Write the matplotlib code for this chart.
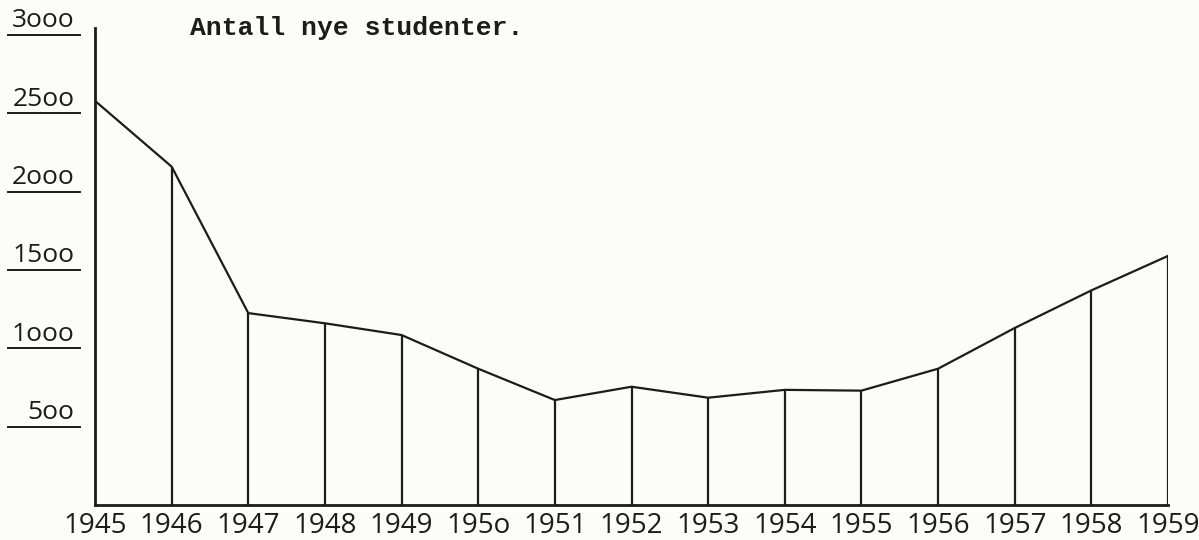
import numpy as np
import matplotlib.pyplot as plt
from matplotlib import transforms

# Data
years = [1945, 1946, 1947, 1948, 1949, 1950, 1951, 1952, 1953, 1954,
         1955, 1956, 1957, 1958, 1959]
new_students = [2580, 2160, 1225, 1160, 1085, 870, 670, 755, 685, 735,
                730, 870, 1130, 1370, 1590]
year_labels = ["1945", "1946", "1947", "1948", "1949", "195o", "1951", "1952",
               "1953", "1954", "1955", "1956", "1957", "1958", "1959"]
y_ticks = [500, 1000, 1500, 2000, 2500, 3000]
y_labels = ["5oo", "1ooo", "15oo", "2ooo", "25oo", "3ooo"]
title = "Antall nye studenter."

ink = "#1c1c1c"
paper = "#fcfcf8"

W, H = 1199, 540
fig = plt.figure(figsize=(W / 100, H / 100), dpi=100, facecolor=paper)
# axes placed so 1945 -> x=95px, 1959 -> x=1168px, 0 -> y=505px, 3045 -> y=28px
ax = fig.add_axes([95 / W, (H - 505) / H, (1168 - 95) / W, (505 - 28) / H])
ax.set_facecolor(paper)

ax.set_xlim(years[0], years[-1])
ax.set_ylim(0, 3045)

# polyline and the verticals down to the x axis
ax.plot(years, new_students, color=ink, lw=1.6, solid_joinstyle="miter")
ax.vlines(years[1:], 0, new_students[1:], color=ink, lw=1.6)

for side in ("top", "right"):
    ax.spines[side].set_visible(False)
for side in ("left", "bottom"):
    ax.spines[side].set_color(ink)
    ax.spines[side].set_linewidth(2.0)

# year labels under the axis
ax.set_xticks(years)
ax.set_xticklabels(year_labels, family="Open Sans", fontsize=20, color=ink)
ax.tick_params(axis="x", length=0, pad=5)

# hand-lettered, underlined y labels left of the axis
ax.set_yticks([])
ytrans = ax.get_yaxis_transform()
lifted = transforms.offset_copy(ytrans, fig=fig, y=5.5, units="points")
for val, lab in zip(y_ticks, y_labels):
    ax.plot([-0.081, -0.014], [val, val], transform=ytrans, color=ink,
            lw=1.4, clip_on=False)
    ax.text(-0.019, val, lab, transform=lifted, ha="right", va="baseline",
            family="Open Sans", fontsize=19, color=ink)

fig.text(190 / W, 1 - 35 / H, title, family="Liberation Mono", fontsize=19,
         fontweight="bold", color=ink, ha="left", va="baseline")

fig.savefig("out.png", dpi=100, facecolor=paper)
